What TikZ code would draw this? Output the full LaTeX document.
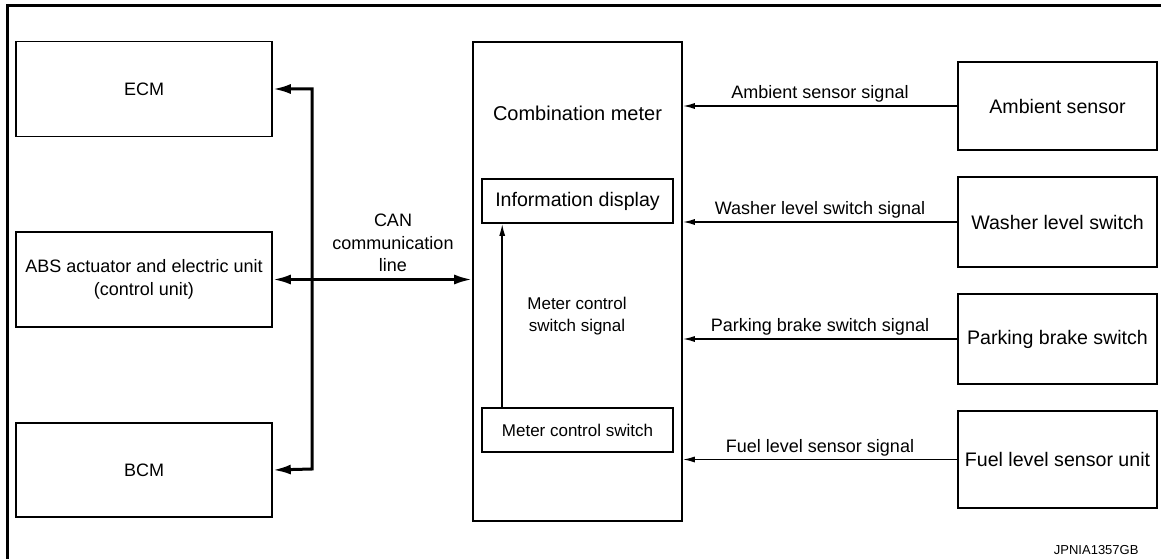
\documentclass[tikz,border=0pt]{standalone}
\usepackage{fontspec}
\setmainfont{Liberation Sans}
\usepackage{tikz}
\usetikzlibrary{arrows.meta}

\newcommand{\bigtxt}{\fontsize{19.6}{22}\selectfont}
\newcommand{\midtxt}{\fontsize{18}{22.5}\selectfont}
\newcommand{\smalltxt}{\fontsize{17}{22}\selectfont}

\tikzset{
    unitbox/.style={draw, line width=1.6pt, inner sep=0pt, align=center},
    sigline/.style={line width=1.5pt, -{Latex[length=12pt,width=6pt]}},
    canline/.style={line width=3pt, {Latex[length=18pt,width=10pt]}-{Latex[length=18pt,width=10pt]}},
    siglabel/.style={font=\midtxt, midway, above, inner sep=3pt}
}

\begin{document}
\begin{tikzpicture}[x=1pt, y=-1pt]
\useasboundingbox (0,0) rectangle (1161,559);

% frame
\draw[line width=3pt] (7,559) -- (7,6) -- (1161,6);

% units on the CAN side
\node[unitbox, minimum width=256, minimum height=95, font=\midtxt] (ecm) at (144,89) {ECM};
\node[unitbox, minimum width=256, minimum height=95, font=\midtxt] (abs) at (144,279.5) {ABS actuator and electric unit\\(control unit)};
\node[unitbox, minimum width=256, minimum height=94, font=\midtxt] (bcm) at (144,470) {BCM};

% combination meter with its inner parts
\node[unitbox, minimum width=209, minimum height=479] (meter) at (577.5,281.5) {};
\node[font=\fontsize{20}{22}\selectfont] (metertxt) at (577.5,113) {Combination meter};
\node[unitbox, minimum width=191, minimum height=44, font=\bigtxt] (info) at (577.5,201) {Information display};
\node[unitbox, minimum width=191, minimum height=44, font=\smalltxt] (mcs) at (577.5,430) {Meter control switch};

% sensors and switches
\node[unitbox, minimum width=199, minimum height=88, font=\bigtxt] (amb) at (1057.5,106) {Ambient sensor};
\node[unitbox, minimum width=199, minimum height=90, font=\bigtxt] (wash) at (1057.5,222) {Washer level switch};
\node[unitbox, minimum width=199, minimum height=90, font=\bigtxt] (park) at (1057.5,339) {Parking brake switch};
\node[unitbox, minimum width=199, minimum height=97, font=\bigtxt] (fuel) at (1057.5,459.5) {Fuel level sensor unit};

% CAN communication line
\coordinate (bustop) at (312,89);
\coordinate (busbot) at (312,469);
\draw[canline] (ecm.east) -- (bustop) -- (busbot) -- (bcm.east);
\draw[canline] (abs.east) -- (meter.west |- abs.east);
\node[font=\midtxt, align=center] (canlbl) at (393,243) {CAN\\communication\\line};

% signals into the combination meter
\draw[sigline] (amb.west) -- (meter.east |- amb.west) node[siglabel] {Ambient sensor signal};
\draw[sigline] (wash.west) -- (meter.east |- wash.west) node[siglabel] {Washer level switch signal};
\draw[sigline] (park.west) -- (meter.east |- park.west) node[siglabel] {Parking brake switch signal};
\draw[sigline] (fuel.west) -- (meter.east |- fuel.west) node[siglabel] {Fuel level sensor signal};

% meter control switch signal
\draw[sigline] ([xshift=21]mcs.north west) -- ([xshift=21]info.south west);
\node[font=\smalltxt, align=center] (mcslbl) at (577,316) {Meter control\\switch signal};

\node[font=\fontsize{13}{15}\selectfont, anchor=east] (code) at (1142,550) {JPNIA1357GB};
\end{tikzpicture}
\end{document}
